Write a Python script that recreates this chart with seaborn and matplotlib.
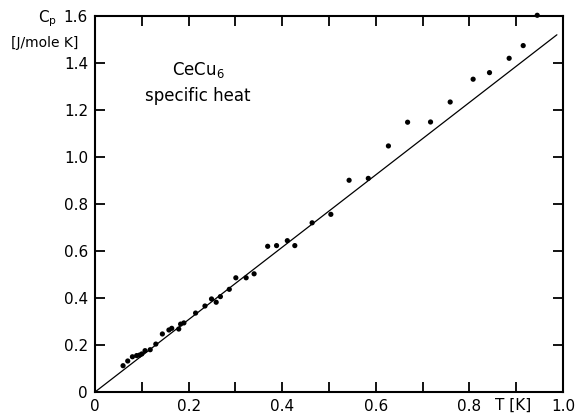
import numpy as np
import pandas as pd
import matplotlib
matplotlib.use('Agg')
import matplotlib.pyplot as plt
import seaborn as sns

T = [0.060, 0.070, 0.080, 0.089, 0.095, 0.100, 0.107, 0.118, 0.130, 0.144,
     0.158, 0.164, 0.179, 0.183, 0.190, 0.215, 0.235, 0.249, 0.259, 0.268,
     0.287, 0.301, 0.323, 0.340, 0.369, 0.388, 0.411, 0.427, 0.464, 0.504,
     0.543, 0.584, 0.627, 0.668, 0.717, 0.759, 0.808, 0.843, 0.885, 0.915, 0.945]
Cp = [0.112, 0.132, 0.150, 0.155, 0.157, 0.162, 0.176, 0.180, 0.204, 0.247,
      0.264, 0.271, 0.268, 0.289, 0.294, 0.336, 0.366, 0.396, 0.382, 0.406,
      0.437, 0.486, 0.486, 0.503, 0.620, 0.623, 0.644, 0.623, 0.720, 0.756,
      0.901, 0.909, 1.047, 1.148, 1.149, 1.234, 1.331, 1.359, 1.420, 1.474, 1.603]

# straight line fit through the origin
fit_T = [0.0, 0.987]
fit_Cp = [0.0, 1.520]

x_ticks = [0.0, 0.1, 0.2, 0.3, 0.4, 0.5, 0.6, 0.7, 0.8, 0.9, 1.0]
x_labels = ['0', '', '0.2', '', '0.4', '', '0.6', '', '0.8', '', '1.0']
y_ticks = [0.0, 0.2, 0.4, 0.6, 0.8, 1.0, 1.2, 1.4, 1.6]
y_labels = ['0', '0.2', '0.4', '0.6', '0.8', '1.0', '1.2', '1.4', '1.6']

df = pd.DataFrame({'T': T, 'Cp': Cp})
fit = pd.DataFrame({'T': fit_T, 'Cp': fit_Cp})

sns.set_style('ticks')
plt.rcParams['font.family'] = ['DejaVu Sans']
plt.rcParams['text.color'] = 'black'

fig = plt.figure(figsize=(5.77, 4.13), dpi=100)
ax = fig.add_axes([0.1646, 0.0508, 0.8111, 0.9105])

sns.lineplot(data=fit, x='T', y='Cp', color='black', linewidth=0.9, ax=ax)
sns.scatterplot(data=df, x='T', y='Cp', color='black', s=14, edgecolor='none',
                clip_on=False, zorder=3, ax=ax)

ax.set_xlim(0, 1.0)
ax.set_ylim(0, 1.6)
ax.set_xticks(x_ticks)
ax.set_xticklabels(x_labels)
ax.set_yticks(y_ticks)
ax.set_yticklabels(y_labels)
ax.set_xlabel('')
ax.set_ylabel('')

for s in ax.spines.values():
    s.set_visible(True)
    s.set_linewidth(1.5)
    s.set_color('black')

ax.tick_params(direction='in', length=7, width=1.3, labelsize=11,
               top=True, right=True, colors='black', labelcolor='black', pad=5)

ax.text(0.893, -0.015, 'T [K]', fontsize=11, ha='center', va='top',
        color='black', transform=ax.get_xaxis_transform())
fig.text(0.083, 0.955, r'C$_\mathregular{p}$', fontsize=11, ha='center', va='center',
         color='black')
fig.text(0.078, 0.895, '[J/mole K]', fontsize=10, ha='center', va='center',
         color='black')
ax.text(0.22, 1.37, r'CeCu$_\mathregular{6}$', fontsize=12, ha='center', va='center',
        color='black')
ax.text(0.22, 1.26, 'specific heat', fontsize=12, ha='center', va='center',
        color='black')

fig.savefig('out.png', dpi=100)
